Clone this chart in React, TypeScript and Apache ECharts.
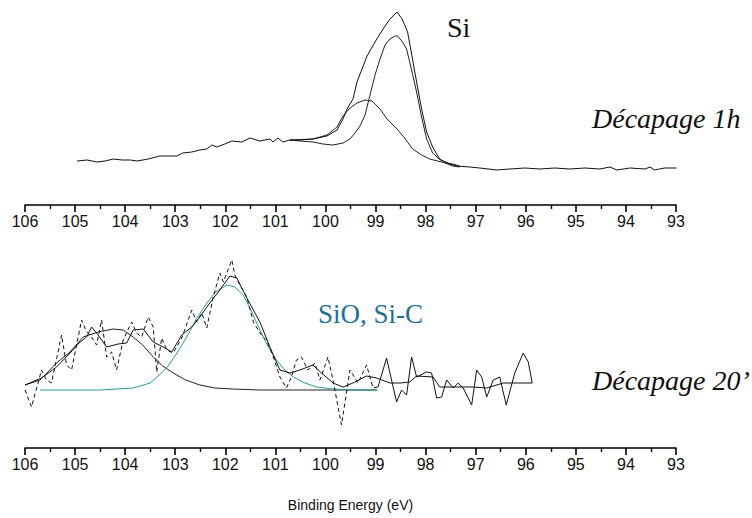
import React, { useEffect, useRef } from "react";
import * as echarts from "echarts";

// Tick labels (binding energy, eV)
const tickMin = 93;
const tickMax = 106;

// ---- Top panel: Décapage 1h ----
const topDataE = [104.96, 104.76, 104.56, 104.4, 104.24, 104.06, 103.9, 103.76, 103.54, 103.31, 103.11, 102.97, 102.85, 102.67, 102.51, 102.37, 102.27, 102.17, 102.01, 101.87, 101.67, 101.51, 101.31, 101.11, 101.05, 100.95, 100.85, 100.71, 100.51, 100.25, 99.97, 99.77, 99.65, 99.57, 99.45, 99.37, 99.17, 99.01, 98.85, 98.71, 98.57, 98.47, 98.36, 98.28, 98.18, 98.08, 97.98, 97.86, 97.72, 97.52, 97.38, 97.12, 96.92, 96.58, 96.32, 96.02, 95.72, 95.42, 95.12, 94.82, 94.52, 94.32, 94.18, 93.92, 93.62, 93.52, 93.43, 93.23, 92.99];
const topDataI = [44, 45, 43, 44, 46, 45, 45, 44, 46, 49, 49, 49, 52, 53, 55, 56, 60, 58, 61, 64, 63, 67, 64, 66, 63, 67, 63, 65, 65, 66, 69, 75, 86, 96, 106, 123, 149, 163, 176, 186, 193, 186, 173, 151, 123, 96, 73, 58, 46, 41, 39, 38, 37, 35, 36, 37, 36, 37, 36, 37, 36, 38, 35, 37, 36, 38, 35, 37, 37];

const topSiE = [100.71, 100.51, 100.25, 100.05, 99.85, 99.65, 99.51, 99.41, 99.31, 99.21, 99.11, 99.01, 98.91, 98.81, 98.71, 98.61, 98.56, 98.46, 98.38, 98.28, 98.18, 98.08, 97.98, 97.86, 97.66, 97.46, 97.32];
const topSiI = [65, 64, 63, 61, 60, 62, 66, 72, 79, 90, 110, 130, 146, 160, 166, 169, 169, 163, 156, 135, 113, 88, 66, 52, 43, 39, 38];

const topOxE = [100.71, 100.25, 99.97, 99.77, 99.65, 99.51, 99.37, 99.21, 99.07, 98.91, 98.77, 98.57, 98.42, 98.26, 98.08, 97.92, 97.68, 97.46, 97.32];
const topOxI = [65, 66, 70, 78, 89, 97, 102, 105, 104, 96, 86, 76, 67, 56, 50, 46, 43, 41, 39];

// ---- Bottom panel: Décapage 20' ----
const rawDashE = [106.0, 105.87, 105.67, 105.57, 105.47, 105.27, 105.17, 105.07, 104.87, 104.77, 104.7, 104.57, 104.47, 104.37, 104.27, 104.17, 104.04, 103.87, 103.77, 103.67, 103.54, 103.44, 103.37, 103.27, 103.17, 103.04, 102.87, 102.67, 102.57, 102.47, 102.37, 102.24, 102.11, 102.04, 101.87, 101.81, 101.71, 101.57, 101.44, 101.28, 101.18, 101.04, 100.91, 100.78, 100.68, 100.58, 100.48, 100.35, 100.21, 100.11, 99.95, 99.85, 99.68, 99.51, 99.35, 99.18, 99.05, 98.95];
const rawDashI = [58, 41, 78, 68, 65, 113, 83, 78, 128, 116, 113, 103, 128, 91, 96, 78, 108, 126, 115, 111, 131, 121, 76, 110, 98, 95, 110, 138, 126, 135, 120, 151, 175, 166, 188, 173, 163, 151, 126, 113, 108, 91, 71, 60, 71, 88, 91, 78, 85, 68, 91, 68, 23, 78, 65, 83, 60, 61];

const rawSolidE = [98.95, 98.78, 98.58, 98.48, 98.38, 98.28, 98.18, 97.98, 97.88, 97.78, 97.68, 97.58, 97.45, 97.35, 97.25, 97.08, 96.98, 96.88, 96.78, 96.65, 96.52, 96.39, 96.22, 96.05, 95.95, 95.87];
const rawSolidI = [61, 90, 46, 58, 53, 91, 71, 76, 75, 50, 51, 68, 60, 65, 60, 43, 78, 71, 51, 68, 71, 43, 75, 95, 86, 65];

const smoothE = [106.0, 105.67, 105.37, 105.1, 104.9, 104.77, 104.67, 104.54, 104.37, 104.14, 103.97, 103.84, 103.64, 103.44, 103.24, 103.07, 102.87, 102.67, 102.51, 102.31, 102.11, 101.91, 101.77, 101.57, 101.31, 101.11, 100.91, 100.71, 100.51, 100.25, 100.08, 99.85, 99.65, 99.45, 99.18, 98.98, 98.71, 98.51, 98.32, 98.18, 97.85, 97.72, 97.38, 97.05, 96.78, 96.45, 95.87];
const smoothI = [63, 70, 81, 95, 106, 111, 121, 113, 101, 104, 105, 118, 119, 106, 101, 96, 113, 121, 131, 145, 158, 172, 170, 150, 126, 101, 78, 75, 78, 83, 75, 65, 61, 65, 72, 70, 65, 65, 66, 72, 71, 61, 61, 61, 60, 65, 65];

const fitSiCE = [106.0, 105.7, 105.37, 105.1, 104.84, 104.54, 104.24, 104.04, 103.84, 103.65, 103.44, 103.25, 103.04, 102.79, 102.51, 102.21, 101.85, 101.31, 98.97];
const fitSiCI = [63, 68, 85, 96, 111, 116, 119, 118, 111, 103, 91, 82, 75, 68, 63, 60, 59, 58, 58];

const fitSiOE = [105.7, 104.5, 103.84, 103.5, 103.17, 102.99, 102.77, 102.59, 102.37, 102.19, 101.97, 101.81, 101.64, 101.49, 101.31, 101.15, 100.98, 100.81, 100.64, 100.41, 100.18, 99.85, 99.51, 98.97];
const fitSiOI = [58, 58, 60, 65, 80, 93, 111, 128, 145, 156, 163, 161, 153, 138, 118, 102, 88, 78, 71, 65, 61, 59, 58, 58];

const zip = (e: number[], v: number[]) => e.map((x, i) => [x, v[i]]);

const serif = "Liberation Serif";
const sans = "Liberation Sans";

function makeXAxis(gridIndex: number, withName: boolean) {
  return {
    type: "value",
    gridIndex,
    min: tickMin,
    max: tickMax,
    interval: 1,
    inverse: true,
    axisLine: { show: true, lineStyle: { color: "#000", width: 1.6 } },
    axisTick: { show: true, length: 7, lineStyle: { color: "#000", width: 1.6 } },
    minorTick: { show: true, splitNumber: 2, length: 4, lineStyle: { color: "#000", width: 1.4 } },
    splitLine: { show: false },
    axisLabel: { color: "#111", fontSize: 16, fontFamily: sans, margin: 8 },
    name: withName ? "Binding Energy (eV)" : "",
    nameLocation: "middle",
    nameGap: 50,
    nameTextStyle: { color: "#111", fontSize: 14, fontFamily: sans },
  };
}

function lineSeries(idx: number, data: number[][], color: string, dashed = false, width = 1) {
  return {
    type: "line",
    xAxisIndex: idx,
    yAxisIndex: idx,
    data,
    showSymbol: false,
    symbol: "none",
    lineStyle: { color, width, type: dashed ? [4, 3] : "solid" },
    silent: true,
  };
}

function label(text: string, pos: Record<string, number>, size: number, italic: boolean, fill: string) {
  return {
    type: "text",
    ...pos,
    style: {
      text,
      fontFamily: serif,
      fontSize: size,
      fontStyle: italic ? "italic" : "normal",
      fill,
    },
  };
}

export default function App() {
  const ref = useRef<HTMLDivElement>(null);
  useEffect(() => {
    if (!ref.current) return;
    const chart = echarts.init(ref.current, null, { renderer: "svg" });
    chart.setOption({
      animation: false,
      backgroundColor: "#fff",
      grid: [
        { left: 25, width: 651, top: 0, height: 205 },
        { left: 25, width: 651, top: 240, height: 208 },
      ],
      xAxis: [makeXAxis(0, false), makeXAxis(1, true)],
      yAxis: [
        { type: "value", gridIndex: 0, min: 0, max: 205, show: false },
        { type: "value", gridIndex: 1, min: 0, max: 208, show: false },
      ],
      series: [
        lineSeries(0, zip(topOxE, topOxI), "#222"),
        lineSeries(0, zip(topSiE, topSiI), "#222"),
        lineSeries(0, zip(topDataE, topDataI), "#111"),
        lineSeries(1, zip(fitSiCE, fitSiCI), "#222"),
        lineSeries(1, zip(fitSiOE, fitSiOI), "#2a9a9a"),
        lineSeries(1, zip(rawDashE, rawDashI), "#111", true),
        lineSeries(1, zip(rawSolidE, rawSolidI), "#111"),
        lineSeries(1, zip(smoothE, smoothI), "#111"),
      ],
      graphic: [
        label("Si", { left: 447, top: 13 }, 28, false, "#111"),
        label("Décapage 1h", { left: 592, top: 104 }, 28, true, "#111"),
        label("SiO, Si-C", { left: 318, top: 300 }, 27, false, "#1d6f98"),
        label("Décapage 20’", { left: 592, top: 366 }, 28, true, "#111"),
      ],
    });
    return () => chart.dispose();
  }, []);
  return <div ref={ref} style={{ width: 752, height: 518, position: "absolute", left: 0, top: 0 }} />;
}
